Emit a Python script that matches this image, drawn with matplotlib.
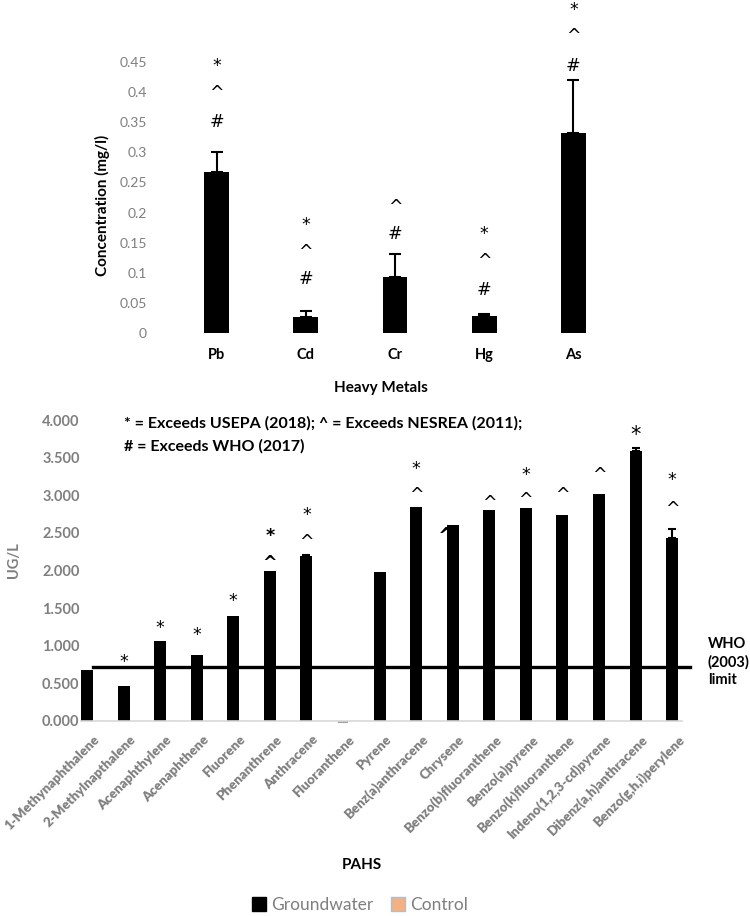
import matplotlib
matplotlib.use("Agg")
import matplotlib.pyplot as plt
from matplotlib.patches import Patch
import numpy as np

plt.rcParams['font.family'] = ['Lato', 'DejaVu Sans']

# ---------------- data ----------------
metals = ["Pb", "Cd", "Cr", "Hg", "As"]
metal_conc = [0.267, 0.027, 0.093, 0.028, 0.332]
metal_err = [0.033, 0.010, 0.038, 0.003, 0.088]
metal_marks = [["#", "^", "*"], ["#", "^", "*"], ["#", "^"], ["#", "^", "*"], ["#", "^", "*"]]
metal_mark_y = [[0.355, 0.402, 0.448], [0.093, 0.139, 0.183], [0.168, 0.214],
                [0.076, 0.123, 0.168], [0.448, 0.498, 0.541]]
metal_yticks = [0, 0.05, 0.1, 0.15, 0.2, 0.25, 0.3, 0.35, 0.4, 0.45]
metal_yticklabels = ["0", "0.05", "0.1", "0.15", "0.2", "0.25", "0.3", "0.35", "0.4", "0.45"]

pahs = ["1-Methynaphthalene", "2-Methylnapthalene", "Acenaphthylene", "Acenaphthene",
        "Fluorene", "Phenanthrene", "Anthracene", "Fluoranthene", "Pyrene",
        "Benz(a)anthracene", "Chrysene", "Benzo(b)fluoranthene", "Benzo(a)pyrene",
        "Benzo(k)fluoranthene", "Indeno(1,2,3-cd)pyrene", "Dibenz(a,h)anthracene",
        "Benzo(g,h,i)perylene"]
groundwater = [0.68, 0.46, 1.06, 0.88, 1.40, 2.00, 2.19, 0.0, 1.98,
               2.85, 2.61, 2.81, 2.83, 2.74, 3.02, 3.59, 2.43]
gw_err = [0, 0, 0, 0, 0, 0, 0.02, 0, 0, 0, 0, 0, 0, 0, 0, 0.04, 0.12]
control = [0.0] * 17
who_limit = 0.72
pah_yticks = [0, 0.5, 1, 1.5, 2, 2.5, 3, 3.5, 4]
pah_yticklabels = ["0.000", "0.500", "1.000", "1.500", "2.000", "2.500", "3.000", "3.500", "4.000"]
# annotations: (category index, symbol, y value)
pah_marks = [(1, "*", 0.81), (2, "*", 1.26), (3, "*", 1.17), (4, "*", 1.62),
             (5, "*", 2.49), (5, "^", 2.13), (6, "*", 2.77), (6, "^", 2.41),
             (9, "*", 3.38), (9, "^", 3.03), (11, "^", 2.93),
             (12, "*", 3.30), (12, "^", 2.97), (13, "^", 3.03), (14, "^", 3.30),
             (15, "*", 3.83), (16, "*", 3.23), (16, "^", 2.85)]

GRAY = "#7f7f7f"
SYM = ["DejaVu Sans"]
W, H = 750, 916
fig = plt.figure(figsize=(7.5, 9.16), dpi=100)

def fx(px):
    return px / W

def fy(py):
    return 1 - py / H

# ---------------- top chart ----------------
ax1 = fig.add_axes([fx(172), fy(333), fx(618 - 172), (333 - 62) / H])
x1 = np.arange(len(metals))
ax1.bar(x1, metal_conc, width=0.28, color="black", zorder=2)
ax1.errorbar(x1, metal_conc, yerr=[np.zeros(len(metals)), metal_err], fmt="none",
             ecolor="black", elinewidth=1.5, capsize=4, capthick=1.5, zorder=3)
ax1.set_xlim(-0.5, len(metals) - 0.5)
ax1.set_ylim(0, 0.45)
ax1.set_yticks(metal_yticks)
ax1.set_yticklabels(metal_yticklabels, color=GRAY, fontsize=10)
ax1.set_xticks(x1)
ax1.set_xticklabels(metals, fontsize=10.5, fontweight="bold")
ax1.tick_params(axis="y", length=0, pad=18)
ax1.tick_params(axis="x", length=0, pad=11)
for s in ax1.spines.values():
    s.set_visible(False)
for i, (syms, ys) in enumerate(zip(metal_marks, metal_mark_y)):
    for sym, yv in zip(syms, ys):
        ax1.text(i, yv - 0.004, sym, ha="center", va="center", fontsize=12.5,
                 family=SYM, clip_on=False)
fig.text(fx(102), fy(205), "Concentration (mg/l)", rotation=90, ha="center", va="center",
         fontsize=11, fontweight="bold")
fig.text(fx(381), fy(388), "Heavy Metals", ha="center", va="center", fontsize=11,
         fontweight="bold")

# ---------------- bottom chart ----------------
bw = 0.33
ax2 = fig.add_axes([fx(81), fy(721), fx(682 - 81), (721 - 420) / H])
x2 = np.arange(len(pahs))
ax2.bar(x2, groundwater, width=bw, color="black", zorder=2, label="Groundwater")
ax2.bar(x2 + bw, control, width=bw, color="#F4B183", edgecolor="#9DC3E6", zorder=2,
        label="Control")
err_idx = [i for i, e in enumerate(gw_err) if e > 0]
ax2.errorbar([x2[i] for i in err_idx], [groundwater[i] for i in err_idx],
             yerr=[[0] * len(err_idx), [gw_err[i] for i in err_idx]], fmt="none",
             ecolor="black", elinewidth=1.5, capsize=3, capthick=1.5, zorder=3)
ax2.set_xlim(-bw / 2, len(pahs) - 1 + bw / 2)
ax2.set_ylim(0, 4)
ax2.set_yticks(pah_yticks)
ax2.set_yticklabels(pah_yticklabels, color=GRAY, fontsize=10.5, fontweight="bold")
ax2.set_xticks(x2 + 0.27)
ax2.set_xticklabels(pahs, rotation=45, ha="right", va="center", rotation_mode="anchor",
                    color=GRAY, fontsize=9.5, fontweight="heavy")
ax2.tick_params(axis="y", length=0, pad=1)
ax2.tick_params(axis="x", length=0, pad=12)
for k, s in ax2.spines.items():
    s.set_visible(k == "bottom")
ax2.spines["bottom"].set_color("#d9d9d9")
ax2.spines["bottom"].set_linewidth(1.2)
# small grey mark at Fluoranthene (zero value)
ax2.plot([7 - 0.1, 7 + 0.1], [-0.01, -0.01], color="#a0a0a0", lw=1.5, clip_on=False)

ax2.plot([bw / 2, 16.5], [who_limit, who_limit], color="black", lw=2.4, zorder=4,
         clip_on=False)
for i, sym, yv in pah_marks:
    fs = 15 if (i == 15) else 12.5
    wt = "bold" if i == 5 else "normal"
    ax2.text(i, yv - 0.03, sym, ha="center", va="center", fontsize=fs, fontweight=wt,
             family=SYM, clip_on=False, zorder=5)
# partially hidden caret behind the Chrysene bar
ax2.text(10 - 0.17, 2.44, "^", ha="center", va="center", fontsize=15, fontweight="bold",
         family=SYM, zorder=1)

fig.text(fx(124), fy(423), "* = Exceeds USEPA (2018); ^ = Exceeds NESREA (2011);",
         ha="left", va="center", fontsize=11.5, fontweight="bold")
fig.text(fx(124), fy(446), "# = Exceeds WHO (2017)", ha="left", va="center",
         fontsize=11.5, fontweight="bold")
fig.text(fx(708), fy(662), "WHO\n(2003)\nlimit", ha="left", va="center", fontsize=10.5,
         fontweight="bold", linespacing=1.3)
fig.text(fx(14), fy(560), "UG/L", rotation=90, ha="center", va="center", fontsize=10.5,
         fontweight="bold", color=GRAY)
fig.text(fx(362), fy(865), "PAHS", ha="center", va="center", fontsize=11,
         fontweight="bold")

handles = [Patch(facecolor="black", edgecolor="black", label="Groundwater"),
           Patch(facecolor="#F4B183", edgecolor="#9DC3E6", label="Control")]
fig.legend(handles=handles, loc="center", bbox_to_anchor=(fx(360), fy(905)), ncol=2,
           frameon=False, fontsize=12.5, labelcolor=GRAY, handlelength=0.8,
           handleheight=0.8, handletextpad=0.3, columnspacing=1.0)

fig.savefig("out.png", dpi=100)
